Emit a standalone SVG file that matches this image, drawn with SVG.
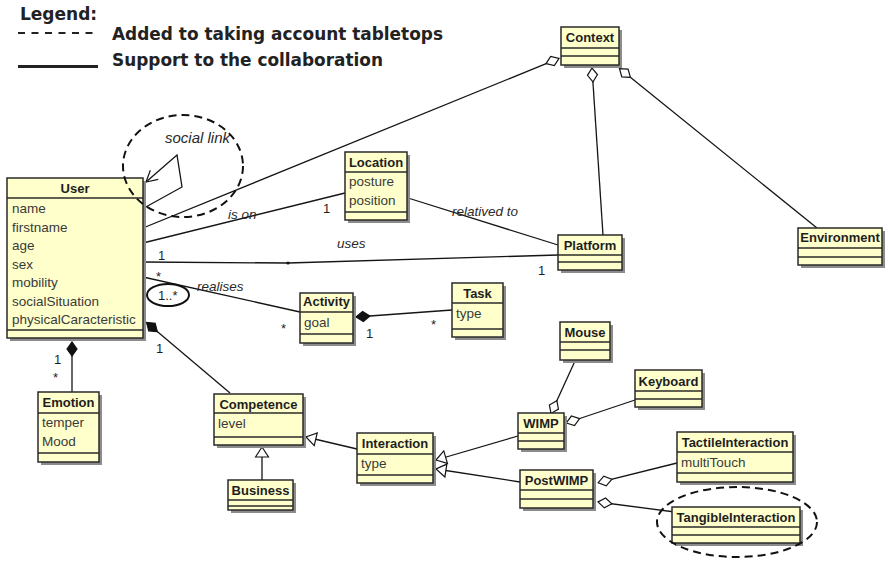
<svg xmlns="http://www.w3.org/2000/svg" width="888" height="564" viewBox="0 0 888 564">
  <style>
    .box { fill: #ffffcc; stroke: #2a2a2a; stroke-width: 1.5; }
    .shadow { fill: #8c8c8c; }
    .sep { stroke: #2a2a2a; stroke-width: 1.5; }
    .hd { font-family: "Liberation Sans", Arial, sans-serif; font-size: 13px; font-weight: bold; fill: #1e1e1e; text-anchor: middle; }
    .at { font-family: "Liberation Sans", Arial, sans-serif; font-size: 13.5px; fill: #3a3a3a; }
    .edge { fill: none; stroke: #151515; stroke-width: 1.3; }
    .role { font-family: "Liberation Sans", Arial, sans-serif; font-size: 13.5px; font-style: italic; fill: #2a2a2a; }
    .mult { font-family: "Liberation Sans", Arial, sans-serif; font-size: 13px; fill: #1e1e1e; }
    .note { fill: none; stroke: #111; stroke-width: 2; }
    .dash { stroke-dasharray: 8 5; }
    .legend { font-family: "DejaVu Sans", Verdana, sans-serif; font-size: 17px; font-weight: bold; fill: #222; }
  </style>
  <defs>
    <marker id="aggr" markerUnits="userSpaceOnUse" viewBox="0 0 16 12" markerWidth="16" markerHeight="12" refX="15" refY="6" orient="auto" overflow="visible">
      <path d="M1,6 L8,1 L15,6 L8,11 Z" fill="#fff" stroke="#151515" stroke-width="1.2"/>
    </marker>
    <marker id="comp" markerUnits="userSpaceOnUse" viewBox="0 0 16 12" markerWidth="16" markerHeight="12" refX="15" refY="6" orient="auto" overflow="visible">
      <path d="M1,6 L8,1 L15,6 L8,11 Z" fill="#111" stroke="#111" stroke-width="1.2"/>
    </marker>
    <marker id="gen" markerUnits="userSpaceOnUse" viewBox="0 0 10 14" markerWidth="10" markerHeight="14" refX="10" refY="7" orient="auto" overflow="visible">
      <path d="M0,0.5 L10,7 L0,13.5 Z" fill="#fff" stroke="#151515" stroke-width="1.2"/>
    </marker>
    <marker id="nav" markerUnits="userSpaceOnUse" viewBox="0 0 11 12" markerWidth="11" markerHeight="12" refX="11" refY="6" orient="auto" overflow="visible">
      <path d="M0,0 L11,6 L0,12" fill="none" stroke="#151515" stroke-width="1.2"/>
    </marker>
  </defs>

  <rect width="888" height="564" fill="#fff"/>

  <!-- legend -->
  <g id="legend">
    <text class="legend" x="20" y="20">Legend:</text>
    <line x1="18" y1="33" x2="98" y2="33" stroke="#222" stroke-width="2" stroke-dasharray="7 6.5"/>
    <text class="legend" x="112" y="40" textLength="331" lengthAdjust="spacingAndGlyphs">Added to taking account tabletops</text>
    <line x1="18" y1="66.5" x2="98" y2="66.5" stroke="#222" stroke-width="3"/>
    <text class="legend" x="112" y="66" textLength="271" lengthAdjust="spacingAndGlyphs">Support to the collaboration</text>
  </g>

  <!-- associations, aggregations, compositions, generalizations -->
  <g id="connectors">
    <path class="edge" d="M143,228 L559,58.4" marker-end="url(#aggr)"/>
    <path class="edge" d="M603,235 L592,68" marker-end="url(#aggr)"/>
    <path class="edge" d="M817,228 L619.5,68.6" marker-end="url(#aggr)"/>
    <path class="edge" d="M143,243 L345,193"/>
    <path class="edge" d="M408,198 L558,245"/>
    <path class="edge" d="M143,262 L288,263 L558,255"/>
    <circle cx="288" cy="263" r="1.6" fill="#151515"/>
    <path class="edge" d="M143,277 L300,312"/>
    <path class="edge" d="M452,310 L356,317" marker-end="url(#comp)"/>
    <path class="edge" d="M72,392 L72,342" marker-end="url(#comp)"/>
    <path class="edge" d="M230,393 L146.6,322.5" marker-end="url(#comp)"/>
    <path class="edge" d="M262,480 L262,447" marker-end="url(#gen)"/>
    <path class="edge" d="M357,449 L306,437" marker-end="url(#gen)"/>
    <path class="edge" d="M518,436 L436,460" marker-end="url(#gen)"/>
    <path class="edge" d="M520,482 L436,469" marker-end="url(#gen)"/>
    <path class="edge" d="M575,361 L551,413.4" marker-end="url(#aggr)"/>
    <path class="edge" d="M635,400 L566.3,423" marker-end="url(#aggr)"/>
    <path class="edge" d="M677,463 L598.2,482.7" marker-end="url(#aggr)"/>
    <path class="edge" d="M675,512 L598,502" marker-end="url(#aggr)"/>
    <!-- reflexive social link on User -->
    <path class="edge" d="M144,208 L182,187 L177,155 L146,182" marker-end="url(#nav)"/>

    <!-- role names -->
    <text class="role" x="165" y="143" style="font-size:15px">social link</text>
    <text class="role" x="228" y="219">is on</text>
    <text class="role" x="452" y="216">relatived to</text>
    <text class="role" x="337" y="248">uses</text>
    <text class="role" x="197" y="291">realises</text>

    <!-- multiplicities -->
    <text class="mult" x="158" y="260">1</text>
    <text class="mult" x="323" y="213">1</text>
    <text class="mult" x="538" y="275">1</text>
    <text class="mult" x="156" y="281">*</text>
    <text class="mult" x="158" y="300">1..*</text>
    <text class="mult" x="281" y="333">*</text>
    <text class="mult" x="366" y="338">1</text>
    <text class="mult" x="431" y="329">*</text>
    <text class="mult" x="54" y="364">1</text>
    <text class="mult" x="53" y="382">*</text>
    <text class="mult" x="156" y="353">1</text>
  </g>

  <!-- classes -->
  <g id="user">
    <rect class="shadow" x="10" y="181" width="136" height="160"/>
    <rect class="box" x="7" y="178" width="136" height="160"/>
    <line class="sep" x1="7" y1="198" x2="143" y2="198"/>
    <line class="sep" x1="7" y1="330" x2="143" y2="330"/>
    <text class="hd" x="75" y="193">User</text>
    <text class="at" x="12" y="213">name</text>
    <text class="at" x="12" y="231.5">firstname</text>
    <text class="at" x="12" y="250">age</text>
    <text class="at" x="12" y="268.5">sex</text>
    <text class="at" x="12" y="287">mobility</text>
    <text class="at" x="12" y="305.5">socialSituation</text>
    <text class="at" x="12" y="324">physicalCaracteristic</text>
  </g>

  <g id="emotion">
    <rect class="shadow" x="41" y="395" width="61" height="70"/>
    <rect class="box" x="38" y="392" width="61" height="70"/>
    <line class="sep" x1="38" y1="413" x2="99" y2="413"/>
    <line class="sep" x1="38" y1="453" x2="99" y2="453"/>
    <text class="hd" x="68.5" y="407">Emotion</text>
    <text class="at" x="42" y="427">temper</text>
    <text class="at" x="42" y="446">Mood</text>
  </g>

  <g id="location">
    <rect class="shadow" x="348" y="155" width="62" height="68"/>
    <rect class="box" x="345" y="152" width="62" height="68"/>
    <line class="sep" x1="345" y1="172" x2="407" y2="172"/>
    <line class="sep" x1="345" y1="212" x2="407" y2="212"/>
    <text class="hd" x="376" y="167">Location</text>
    <text class="at" x="349" y="186">posture</text>
    <text class="at" x="349" y="205">position</text>
  </g>

  <g id="activity">
    <rect class="shadow" x="303" y="296" width="53" height="50"/>
    <rect class="box" x="300" y="293" width="53" height="50"/>
    <line class="sep" x1="300" y1="312" x2="353" y2="312"/>
    <line class="sep" x1="300" y1="334" x2="353" y2="334"/>
    <text class="hd" x="326.5" y="306">Activity</text>
    <text class="at" x="304" y="327">goal</text>
  </g>

  <g id="task">
    <rect class="shadow" x="455" y="286" width="51" height="54"/>
    <rect class="box" x="452" y="283" width="51" height="54"/>
    <line class="sep" x1="452" y1="303" x2="503" y2="303"/>
    <line class="sep" x1="452" y1="329" x2="503" y2="329"/>
    <text class="hd" x="477.5" y="298">Task</text>
    <text class="at" x="456" y="318">type</text>
  </g>

  <g id="platform">
    <rect class="shadow" x="561" y="238" width="64" height="35"/>
    <rect class="box" x="558" y="235" width="64" height="35"/>
    <line class="sep" x1="558" y1="255" x2="622" y2="255"/>
    <line class="sep" x1="558" y1="262" x2="622" y2="262"/>
    <text class="hd" x="590" y="250">Platform</text>
  </g>

  <g id="context">
    <rect class="shadow" x="564" y="30" width="58" height="38"/>
    <rect class="box" x="561" y="27" width="58" height="38"/>
    <line class="sep" x1="561" y1="48" x2="619" y2="48"/>
    <line class="sep" x1="561" y1="56" x2="619" y2="56"/>
    <text class="hd" x="590" y="42">Context</text>
  </g>

  <g id="environment">
    <rect class="shadow" x="801" y="231" width="84" height="37"/>
    <rect class="box" x="798" y="228" width="84" height="37"/>
    <line class="sep" x1="798" y1="248" x2="882" y2="248"/>
    <line class="sep" x1="798" y1="257" x2="882" y2="257"/>
    <text class="hd" x="840" y="242">Environment</text>
  </g>

  <g id="mouse">
    <rect class="shadow" x="563" y="325" width="50" height="38"/>
    <rect class="box" x="560" y="322" width="50" height="38"/>
    <line class="sep" x1="560" y1="342" x2="610" y2="342"/>
    <line class="sep" x1="560" y1="350" x2="610" y2="350"/>
    <text class="hd" x="585" y="337">Mouse</text>
  </g>

  <g id="keyboard">
    <rect class="shadow" x="638" y="373" width="67" height="37"/>
    <rect class="box" x="635" y="370" width="67" height="37"/>
    <line class="sep" x1="635" y1="391" x2="702" y2="391"/>
    <line class="sep" x1="635" y1="399" x2="702" y2="399"/>
    <text class="hd" x="668.5" y="386">Keyboard</text>
  </g>

  <g id="wimp">
    <rect class="shadow" x="521" y="416" width="46" height="36"/>
    <rect class="box" x="518" y="413" width="46" height="36"/>
    <line class="sep" x1="518" y1="433" x2="564" y2="433"/>
    <line class="sep" x1="518" y1="441" x2="564" y2="441"/>
    <text class="hd" x="541" y="428">WIMP</text>
  </g>

  <g id="postwimp">
    <rect class="shadow" x="523" y="473" width="73" height="38"/>
    <rect class="box" x="520" y="470" width="73" height="38"/>
    <line class="sep" x1="520" y1="490" x2="593" y2="490"/>
    <line class="sep" x1="520" y1="499" x2="593" y2="499"/>
    <text class="hd" x="556.5" y="485">PostWIMP</text>
  </g>

  <g id="interaction">
    <rect class="shadow" x="360" y="436" width="76" height="50"/>
    <rect class="box" x="357" y="433" width="76" height="50"/>
    <line class="sep" x1="357" y1="454" x2="433" y2="454"/>
    <line class="sep" x1="357" y1="475" x2="433" y2="475"/>
    <text class="hd" x="395" y="448">Interaction</text>
    <text class="at" x="361" y="468">type</text>
  </g>

  <g id="competence">
    <rect class="shadow" x="217" y="397" width="89" height="51"/>
    <rect class="box" x="214" y="394" width="89" height="51"/>
    <line class="sep" x1="214" y1="413" x2="303" y2="413"/>
    <line class="sep" x1="214" y1="437" x2="303" y2="437"/>
    <text class="hd" x="258.5" y="409">Competence</text>
    <text class="at" x="218" y="428">level</text>
  </g>

  <g id="business">
    <rect class="shadow" x="231" y="483" width="65" height="30"/>
    <rect class="box" x="228" y="480" width="65" height="30"/>
    <line class="sep" x1="228" y1="500" x2="293" y2="500"/>
    <line class="sep" x1="228" y1="506" x2="293" y2="506"/>
    <text class="hd" x="260.5" y="495">Business</text>
  </g>

  <g id="tactileinteraction">
    <rect class="shadow" x="680" y="435" width="116" height="50"/>
    <rect class="box" x="677" y="432" width="116" height="50"/>
    <line class="sep" x1="677" y1="452" x2="793" y2="452"/>
    <line class="sep" x1="677" y1="473" x2="793" y2="473"/>
    <text class="hd" x="735" y="447">TactileInteraction</text>
    <text class="at" x="681" y="467">multiTouch</text>
  </g>

  <g id="tangibleinteraction">
    <rect class="shadow" x="675" y="510" width="128" height="36"/>
    <rect class="box" x="672" y="507" width="128" height="36"/>
    <line class="sep" x1="672" y1="527" x2="800" y2="527"/>
    <line class="sep" x1="672" y1="535" x2="800" y2="535"/>
    <text class="hd" x="736" y="522">TangibleInteraction</text>
  </g>

  <!-- highlight rings -->
  <g id="highlights">
    <ellipse class="note dash" cx="183" cy="166" rx="60" ry="51"/>
    <ellipse class="note" cx="168" cy="295" rx="21" ry="11"/>
    <ellipse class="note dash" cx="737" cy="522" rx="80" ry="35"/>
  </g>
</svg>
